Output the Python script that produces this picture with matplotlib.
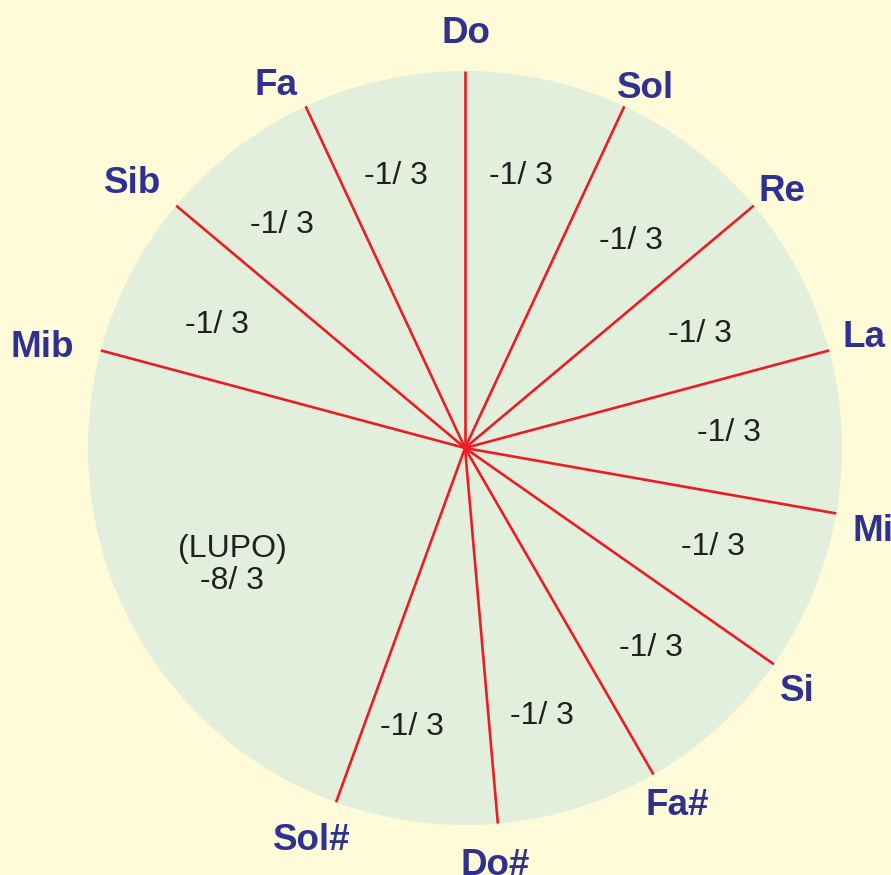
# Ciclo delle quinte con il comma distribuito (quinta del lupo)
import numpy as np
import matplotlib.pyplot as plt

# Note ai confini degli spicchi, in senso orario partendo dall'alto
note = ["Do", "Sol", "Re", "La", "Mi", "Si", "Fa#", "Do#", "Sol#", "Mib", "Sib", "Fa"]
# Ampiezza di ogni spicchio (gradi)
ampiezze = [25, 25, 25, 25, 25, 25, 25, 25, 85, 25, 25, 25]
# Frazione di comma di ogni quinta
frazioni = ["-1/ 3"] * 8 + ["(LUPO)\n-8/ 3"] + ["-1/ 3"] * 3

# posizione delle etichette: distanza (in raggi) e piccolo spostamento angolare (gradi, orario)
dist_note = [1.074, 1.045, 1.066, 1.092, 1.109, 1.107, 1.125, 1.135, 1.141, 1.148, 1.110, 1.061]
delta_note = [0.1, 2.3, 2.1, 0.8, 2.9, 2.3, -0.1, 1.0, 0.9, -2.9, -2.5, -3.2]
dist_fraz = [0.744, 0.710, 0.696, 0.702, 0.705, 0.719, 0.732, 0.745, 0.688, 0.738, 0.771, 0.752]
delta_fraz = [-1.0, 0.8, 1.0, -1.4, -1.3, -0.9, 1.3, 3.4, 1.4, -0.6, -1.5, -1.6]

sfondo = "#fffad7"
verde = "#e1efdc"
rosso = "#ed1c24"
blu = "#2e3192"
nero = "#231f20"

fig = plt.figure(figsize=(8.91, 8.75), dpi=100, facecolor=sfondo)
ax = fig.add_axes([0, 0, 1, 1])
ax.set_facecolor(sfondo)

centro = (465, 427)
raggio = 377

spicchi, _ = ax.pie(ampiezze, startangle=90, counterclock=False, center=centro,
                    radius=raggio, colors=[verde] * len(ampiezze),
                    wedgeprops=dict(linewidth=0))
ax.set_xlim(0, 891)
ax.set_ylim(0, 875)
ax.set_aspect("equal")
ax.axis("off")

def punto(ang_gradi, r):
  a = np.deg2rad(ang_gradi)
  return centro[0] + r * np.cos(a), centro[1] + r * np.sin(a)

for i, w in enumerate(spicchi):
  # bordo di partenza (in senso orario) dello spicchio
  x, y = punto(w.theta2, raggio)
  ax.plot([centro[0], x], [centro[1], y], color=rosso, linewidth=1.9,
          solid_capstyle="butt", zorder=3)

  x, y = punto(w.theta2 - delta_note[i], raggio * dist_note[i])
  ax.text(x, y, note[i], ha="center", va="baseline", fontsize=26.5,
          fontweight="bold", color=blu, family="Liberation Sans")

  # frazione di comma al centro dello spicchio
  x, y = punto((w.theta1 + w.theta2) / 2 - delta_fraz[i], raggio * dist_fraz[i])
  ax.text(x, y - 3, frazioni[i], ha="center", va="center", fontsize=23,
          color=nero, family="Liberation Sans", linespacing=1.1, zorder=4)

fig.savefig("out.png", dpi=100, facecolor=sfondo)
